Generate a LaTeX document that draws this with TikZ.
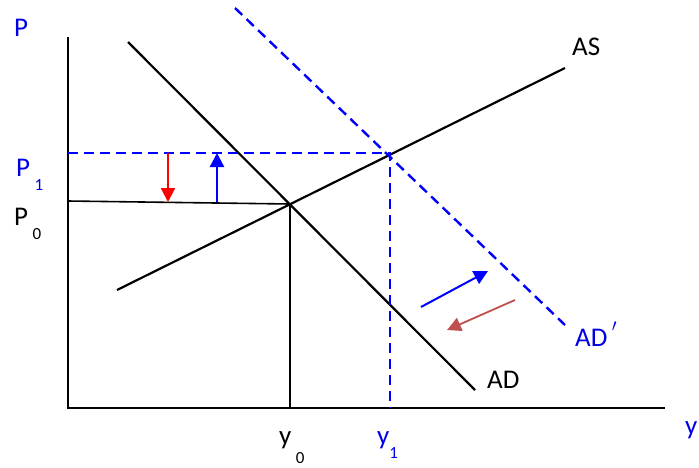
\documentclass[tikz,border=0pt]{standalone}
\usepackage{fontspec}
\setmainfont{Carlito}
\usetikzlibrary{arrows.meta}
\definecolor{lblue}{RGB}{0,0,230}
\definecolor{dblue}{RGB}{0,0,255}
\definecolor{brick}{RGB}{192,80,77}
\newcommand{\lowsub}[2]{\raisebox{#1}{\fontsize{17}{17}\selectfont #2}}
\tikzset{
  curve/.style={line width=2.2pt, black},
  axis/.style={line width=2.2pt, black},
  guide/.style={line width=1.6pt, black},
  dguide/.style={line width=2.4pt, dblue, dash pattern=on 10pt off 6pt},
  lbl/.style={inner sep=0pt, font=\fontsize{27}{27}\selectfont},
  tip/.style={-{Triangle[length=14pt,width=14pt]}, line width=2.3pt},
}
\begin{document}
\begin{tikzpicture}[x=1pt,y=-1pt]
\useasboundingbox (0,0) rectangle (699,467);
% axes
\coordinate (O) at (68,408);
\coordinate (Ytop) at (68,37);
\coordinate (Xend) at (665,408);
\draw[axis] (Ytop) -- (O) -- (Xend);
% curves
\coordinate (AS1) at (117,290);
\coordinate (AS2) at (565,68);
\coordinate (AD1) at (128,42);
\coordinate (AD2) at (475,390);
\coordinate (ADp1) at (235,8);
\coordinate (ADp2) at (565,325);
\coordinate (E0) at (290,204);
\coordinate (E1) at (390,153);
\coordinate (P0a) at (68,201);
\coordinate (P1a) at (68,153);
\coordinate (Y0a) at (290,408);
\coordinate (Y1a) at (390,408);
\draw[curve] (AS1) -- (AS2);
\draw[curve] (AD1) -- (AD2);
\draw[dguide] (ADp1) -- (ADp2);
\draw[guide] (P0a) -- (E0) -- (Y0a);
\draw[dguide] (P1a) -- (E1) -- (Y1a);
% arrows
\coordinate (r1) at (168,153);
\coordinate (r2) at (168,202);
\coordinate (b1) at (217,202);
\coordinate (b2) at (217,153);
\coordinate (c1) at (421,307);
\coordinate (c2) at (488,271);
\coordinate (d1) at (515,300);
\coordinate (d2) at (447,330);
\draw[tip, red] (r1) -- (r2);
\draw[tip, dblue] (b1) -- (b2);
\draw[tip, dblue, line width=2pt] (c1) -- (c2);
\draw[tip, brick, line width=1.8pt] (d1) -- (d2);
% labels
\node[lbl, text=lblue, anchor=south west] (Plab) at (14,37) {P};
\node[lbl, text=lblue, anchor=base west] (P1lab) at (16,176) {P\,\lowsub{-14pt}{1}};
\node[lbl, anchor=base west] (P0lab) at (14,225) {P\,\lowsub{-14pt}{0}};
\node[lbl, anchor=south west] (ASlab) at (572,56) {AS};
\node[lbl, anchor=south west] (ADlab) at (487,389) {AD};
\node[lbl, text=lblue, anchor=south west] (ADplab) at (575,347) {AD\,\raisebox{6pt}{$'$}};
\node[lbl, anchor=base west] (Y0lab) at (279,444) {y\,\lowsub{-19pt}{0}};
\node[lbl, text=lblue, anchor=base west] (Y1lab) at (377,444) {y\lowsub{-14pt}{1}};
\node[lbl, text=lblue, anchor=base west] (Ylab) at (685,434) {y};
\end{tikzpicture}
\end{document}
